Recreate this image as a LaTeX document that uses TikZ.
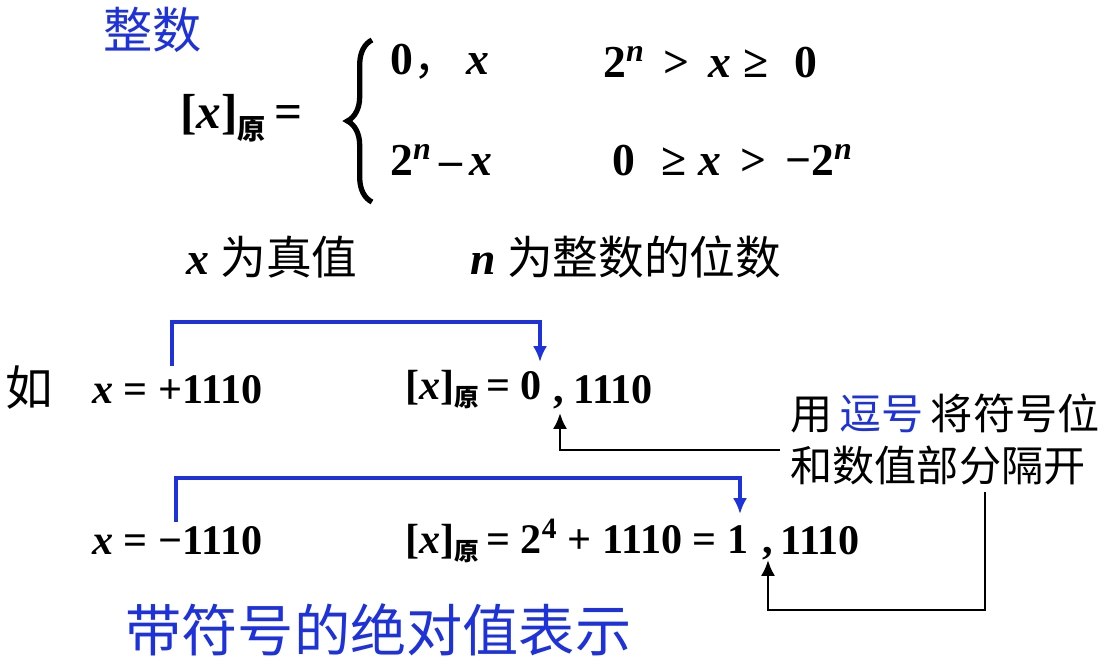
\documentclass[tikz,border=0pt]{standalone}
\usepackage{fontspec}
\usetikzlibrary{arrows.meta,decorations.pathreplacing}
\setmainfont{Liberation Serif}
\newfontfamily\cjk{Noto Sans CJK SC}
\begin{document}
\begin{tikzpicture}[x=0.02cm,y=-0.02cm,
  t/.style={anchor=west,inner sep=0,font=\fontsize{26}{30}\selectfont\bfseries},
  s/.style={anchor=west,inner sep=0,font=\fontsize{24}{28}\selectfont\bfseries},
  c/.style={anchor=west,inner sep=0,font=\fontsize{27}{32}\selectfont\cjk},
  blu/.style={draw={rgb,255:red,30;green,50;blue,220},line width=2.2pt,-{Latex[length=9pt,width=8pt]}},
  blk/.style={draw=black,line width=1.5pt,-{Latex[length=9pt,width=8pt]}}]
\useasboundingbox (0,0) rectangle (1109,663);
\definecolor{bl}{RGB}{30,50,220}
\node[c,text=bl,font=\fontsize{28}{32}\selectfont\cjk] (title) at (103,30) {整数};
\node[t,font=\fontsize{28}{32}\selectfont\bfseries] (lhs) at (180,118) {[\textit{x}]\raisebox{-6pt}{\fontsize{16}{17}\selectfont\cjk 原}\,=};
\coordinate (bt) at (372,40); \coordinate (bb) at (372,202);
\draw[line width=3pt,decorate,decoration={brace,amplitude=14pt}] (bb) -- (bt);
\node[t] (r1a) at (390,62) {0{\cjk\mdseries ，}\,\textit{x}};
\node[t] (r1b) at (603,62) {2\textsuperscript{\textit{n}}\, > \,\textit{x} ≥\,\, 0};
\node[t] (r2a) at (390,160) {2\textsuperscript{\textit{n}}\,–\,\textit{x}};
\node[t] (r2b) at (612,160) {0\,\, ≥ \textit{x} \,>\, −2\textsuperscript{\textit{n}}};
\node[t] (v1) at (186,257) {\textit{x} {\cjk\mdseries 为真值}};
\node[t] (v2) at (470,257) {\textit{n} {\cjk\mdseries 为整数的位数}};
\node[c] (ru) at (5,388) {如};
\node[s] (e1) at (92,390) {\textit{x} = +1110};
\node[s] (f1) at (405,390) {[\textit{x}]\raisebox{-4pt}{\fontsize{14}{15}\selectfont\cjk 原}\,= 0};
\node[s,anchor=base west] (k1) at (553,402) {,};
\node[s] (g1) at (573,390) {1110};
\node[s] (e2) at (92,541) {\textit{x} = −1110};
\node[s] (f2) at (405,541) {[\textit{x}]\raisebox{-4pt}{\fontsize{14}{15}\selectfont\cjk 原}\,= 2\textsuperscript{4} + 1110 = 1};
\node[s,anchor=base west] (k2) at (762,553) {,};
\node[s] (g2) at (780,541) {1110};
\node[c,font=\fontsize{24}{28}\selectfont\cjk] (l1) at (790,413) {用\,\textcolor{bl}{逗号}\,将符号位};
\node[c,font=\fontsize{24}{28}\selectfont\cjk] (l2) at (790,465) {和数值部分隔开};
\node[c,text=bl,font=\fontsize{32}{36}\selectfont\cjk] (bot) at (125,630) {带符号的绝对值表示};
\coordinate (a1) at (172,366); \coordinate (a2) at (540,362);
\draw[blu] (a1) -- (172,322) -- (540,322) -- (a2);
\coordinate (b1) at (176,522); \coordinate (b2) at (740,514);
\draw[blu] (b1) -- (176,478) -- (740,478) -- (b2);
\coordinate (s1) at (780,450); \coordinate (t1) at (560,413);
\draw[blk] (s1) -- (560,450) -- (t1);
\coordinate (s2) at (985,492); \coordinate (t2) at (768,560);
\draw[blk] (s2) -- (985,610) -- (768,610) -- (t2);
\end{tikzpicture}
\end{document}
